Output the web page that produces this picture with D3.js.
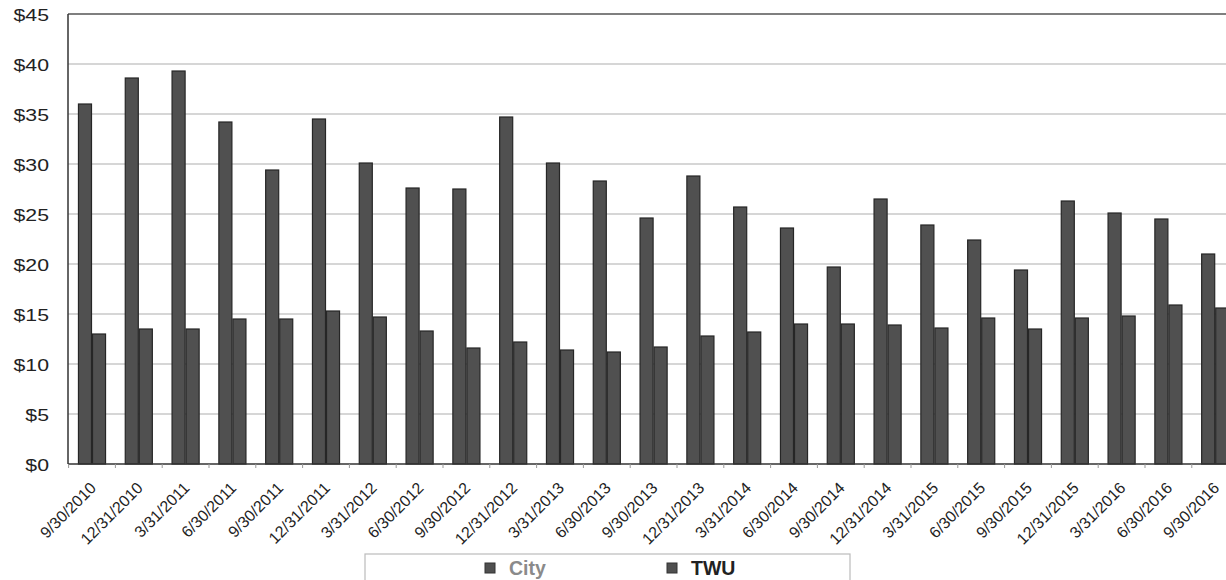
<!DOCTYPE html>
<html>
<head>
<meta charset="utf-8">
<script src="https://cdn.jsdelivr.net/npm/d3@7"></script>
<style>
  html, body { margin: 0; padding: 0; background: #fff; }
  svg { display: block; font-family: "Liberation Sans", Arial, sans-serif; }
</style>
</head>
<body>
<svg id="chart" width="1226" height="580"></svg>
<script>
const categories = ["9/30/2010","12/31/2010","3/31/2011","6/30/2011","9/30/2011","12/31/2011","3/31/2012","6/30/2012","9/30/2012","12/31/2012","3/31/2013","6/30/2013","9/30/2013","12/31/2013","3/31/2014","6/30/2014","9/30/2014","12/31/2014","3/31/2015","6/30/2015","9/30/2015","12/31/2015","3/31/2016","6/30/2016","9/30/2016"];
const cityValues = [36.0,38.6,39.3,34.2,29.4,34.5,30.1,27.6,27.5,34.7,30.1,28.3,24.6,28.8,25.7,23.6,19.7,26.5,23.9,22.4,19.4,26.3,25.1,24.5,21.0];
const twuValues  = [13.0,13.5,13.5,14.5,14.5,15.3,14.7,13.3,11.6,12.2,11.4,11.2,11.7,12.8,13.2,14.0,14.0,13.9,13.6,14.6,13.5,14.6,14.8,15.9,15.6];
const seriesNames = ["City","TWU"];
const yTicks = [0,5,10,15,20,25,30,35,40,45];

(function () {
const svg = d3.select("#chart");
const pLeft = 68, pTop = 14, pBottom = 464, pRight = 1238.6;

const x = d3.scaleBand().domain(categories).range([pLeft + 0.6, pRight]).paddingInner(0.4).paddingOuter(0.2);
const x1 = d3.scaleBand().domain(seriesNames).range([0, x.bandwidth()]);
const y = d3.scaleLinear().domain([0, 45]).range([pBottom, pTop]);

// gridlines
svg.append("g").selectAll("line").data(yTicks.filter(t => t > 0 && t < 45)).join("line")
  .attr("x1", pLeft).attr("x2", 1226)
  .attr("y1", d => y(d)).attr("y2", d => y(d))
  .attr("stroke", "#c8c8c8").attr("stroke-width", 1.3);

// top border
svg.append("line").attr("x1", pLeft).attr("x2", 1226).attr("y1", y(45)).attr("y2", y(45))
  .attr("stroke", "#555").attr("stroke-width", 1.5);

// y axis labels
svg.append("g").selectAll("text").data(yTicks).join("text")
  .attr("transform", d => `translate(49,${y(d) + 6.5}) scale(1.25,1)`)
  .attr("text-anchor", "end").attr("font-size", 17).attr("fill", "#222")
  .text(d => "$" + d);

// bars
const data = categories.map((c, i) => ({ c, vals: [{ s: "City", v: cityValues[i] }, { s: "TWU", v: twuValues[i] }] }));
const g = svg.append("g").selectAll("g").data(data).join("g")
  .attr("transform", d => `translate(${x(d.c)},0)`);
g.selectAll("rect").data(d => d.vals).join("rect")
  .attr("x", d => x1(d.s) + 0.5)
  .attr("width", x1.bandwidth() - 1)
  .attr("y", d => y(d.v))
  .attr("height", d => y(0) - y(d.v))
  .attr("fill", "#505050")
  .attr("stroke", "#262626").attr("stroke-width", 1.2);

// y axis line
svg.append("line").attr("x1", pLeft).attr("x2", pLeft).attr("y1", pTop).attr("y2", pBottom)
  .attr("stroke", "#333").attr("stroke-width", 1.5);

// x axis
const step = x.step();
svg.append("line").attr("x1", pLeft).attr("x2", 1226).attr("y1", pBottom).attr("y2", pBottom)
  .attr("stroke", "#333").attr("stroke-width", 1.5);
svg.append("g").selectAll("line").data(categories).join("line")
  .attr("x1", d => x(d) - step * 0.2).attr("x2", d => x(d) - step * 0.2)
  .attr("y1", pBottom).attr("y2", pBottom + 4)
  .attr("stroke", "#999").attr("stroke-width", 1);

svg.append("g").selectAll("text").data(categories).join("text")
  .attr("transform", d => `translate(${x(d) + x.bandwidth() / 2 + 5},${pBottom + 25}) rotate(-45)`)
  .attr("text-anchor", "end").attr("font-size", 16).attr("fill", "#222")
  .text(d => d);

// legend
svg.append("rect").attr("x", 365).attr("y", 554).attr("width", 485).attr("height", 40)
  .attr("fill", "#fff").attr("stroke", "#bbb").attr("stroke-width", 1.2);
const legendX = [485, 667];
const legendColors = ["#8a8a8a", "#222"];
seriesNames.forEach((s, i) => {
  svg.append("rect").attr("x", legendX[i]).attr("y", 563).attr("width", 10).attr("height", 10)
    .attr("fill", "#505050").attr("stroke", "#333").attr("stroke-width", 1);
  svg.append("text").attr("x", legendX[i] + 24).attr("y", 575)
    .attr("font-size", 19.5).attr("font-weight", "bold").attr("fill", legendColors[i])
    .text(s);
});
})();
</script>
</body>
</html>
